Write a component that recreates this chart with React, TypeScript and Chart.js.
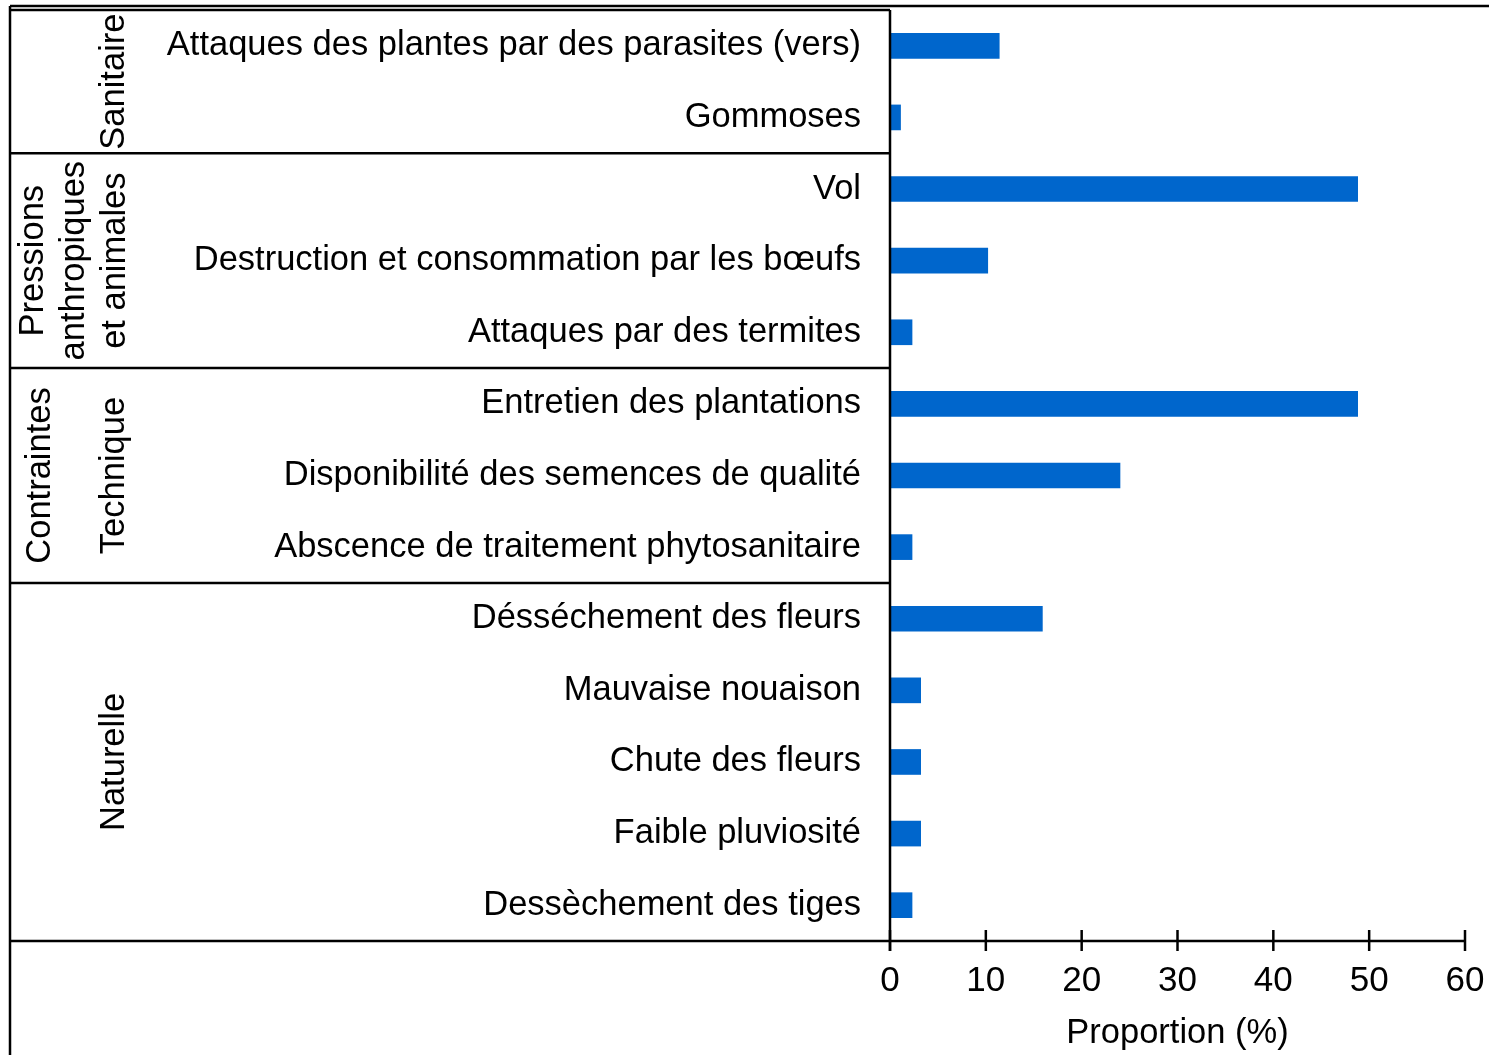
import { useEffect, useRef } from "react";
import { Chart, registerables } from "chart.js";

Chart.register(...registerables);

const categories = [
  "Attaques des plantes par des parasites (vers)",
  "Gommoses",
  "Vol",
  "Destruction et consommation par les bœufs",
  "Attaques par des termites",
  "Entretien des plantations",
  "Disponibilité des semences de qualité",
  "Abscence de traitement phytosanitaire",
  "Désséchement des fleurs",
  "Mauvaise nouaison",
  "Chute des fleurs",
  "Faible pluviosité",
  "Dessèchement des tiges",
];

const proportions = [11.4, 1.1, 48.8, 10.2, 2.3, 48.8, 24.0, 2.3, 15.9, 3.2, 3.2, 3.2, 2.3];

const groupLabels: string[][] = [
  ["Sanitaire"],
  ["Pressions", "anthropiques", "et animales"],
  ["Contraintes", "Technique"],
  ["Naturelle"],
];
const groupSizes = [2, 3, 3, 5];

const xMin = 0;
const xMax = 60;
const xStep = 10;
const xTitle = "Proportion (%)";

const FONT = "'Liberation Sans', Arial, sans-serif";
const FS = 34.5;
const TICK_FS = 35;

// column centre positions (style) for group label lines
const groupLineX: number[][] = [[114], [33, 74, 115], [40, 114], [114]];

const tablePlugin = {
  id: "tablePlugin",
  afterDraw(chart: any) {
    const { ctx, chartArea, scales } = chart;
    const y = scales.y;
    const x = scales.x;
    const left = 10;
    const axisX = chartArea.left;
    const top = chartArea.top;
    const bottom = chartArea.bottom;
    ctx.save();
    ctx.strokeStyle = "#000";
    ctx.lineWidth = 2.5;
    const line = (x1: number, y1: number, x2: number, y2: number) => {
      ctx.beginPath();
      ctx.moveTo(x1, y1);
      ctx.lineTo(x2, y2);
      ctx.stroke();
    };
    line(left, 6, chart.width, 6);
    line(left, top, axisX, top);
    line(left, 6, left, chart.height);
    line(axisX, top, axisX, bottom + 10);
    line(left, bottom, chartArea.right + 1, bottom);
    x.ticks.forEach((t: any) => {
      const px = x.getPixelForValue(t.value);
      line(px, bottom - 11, px, bottom + 10);
    });
    let idx = 0;
    ctx.fillStyle = "#000";
    ctx.font = `${FS}px ${FONT}`;
    ctx.textAlign = "center";
    ctx.textBaseline = "middle";
    groupSizes.forEach((size, g) => {
      const startPx = idx === 0 ? top : (y.getPixelForTick(idx - 1) + y.getPixelForTick(idx)) / 2;
      const endIdx = idx + size;
      const endPx = endIdx >= categories.length ? bottom : (y.getPixelForTick(endIdx - 1) + y.getPixelForTick(endIdx)) / 2;
      if (endIdx < categories.length) line(left, endPx, axisX, endPx);
      const cy = (startPx + endPx) / 2;
      groupLabels[g].forEach((txt, li) => {
        ctx.save();
        ctx.translate(groupLineX[g][li], cy);
        ctx.rotate(-Math.PI / 2);
        ctx.fillText(txt, 0, 0);
        ctx.restore();
      });
      idx = endIdx;
    });
    ctx.restore();
  },
};

export default function App() {
  const ref = useRef<HTMLCanvasElement | null>(null);
  useEffect(() => {
    if (!ref.current) return;
    const chart = new Chart(ref.current, {
      type: "bar",
      data: {
        labels: categories,
        datasets: [
          {
            data: proportions,
            backgroundColor: "#0066CC",
            borderWidth: 0,
            barThickness: 25,
          },
        ],
      },
      options: {
        indexAxis: "y",
        responsive: false,
        animation: false,
        devicePixelRatio: 1,
        layout: { padding: { left: 0, right: 24, top: 10, bottom: 0 } },
        plugins: { legend: { display: false }, tooltip: { enabled: false } },
        scales: {
          x: {
            min: xMin,
            max: xMax,
            ticks: { stepSize: xStep, color: "#000", font: { family: FONT, size: TICK_FS }, padding: 19 },
            grid: { display: false, drawTicks: false },
            border: { display: false },
            title: {
              display: true,
              text: xTitle,
              color: "#000",
              font: { family: FONT, size: FS },
              padding: { top: 0, bottom: 1 },
            },
            afterFit: (s: any) => {
              s.height = 114;
              s.paddingLeft = 0;
              s.paddingRight = 0;
            },
          },
          y: {
            ticks: { color: "#000", font: { family: FONT, size: FS }, padding: 29, autoSkip: false },
            grid: { display: false, drawTicks: false },
            border: { display: false },
            afterFit: (s: any) => {
              s.width = 890;
              s.paddingTop = 0;
              s.paddingBottom = 0;
            },
          },
        },
      } as any,
      plugins: [tablePlugin],
    });
    return () => chart.destroy();
  }, []);
  return (
    <div style={{ position: "fixed", left: 0, top: 0, width: 1489, height: 1055, background: "#fff" }}>
      <canvas ref={ref} width={1489} height={1055} style={{ display: "block", width: 1489, height: 1055 }} />
    </div>
  );
}
